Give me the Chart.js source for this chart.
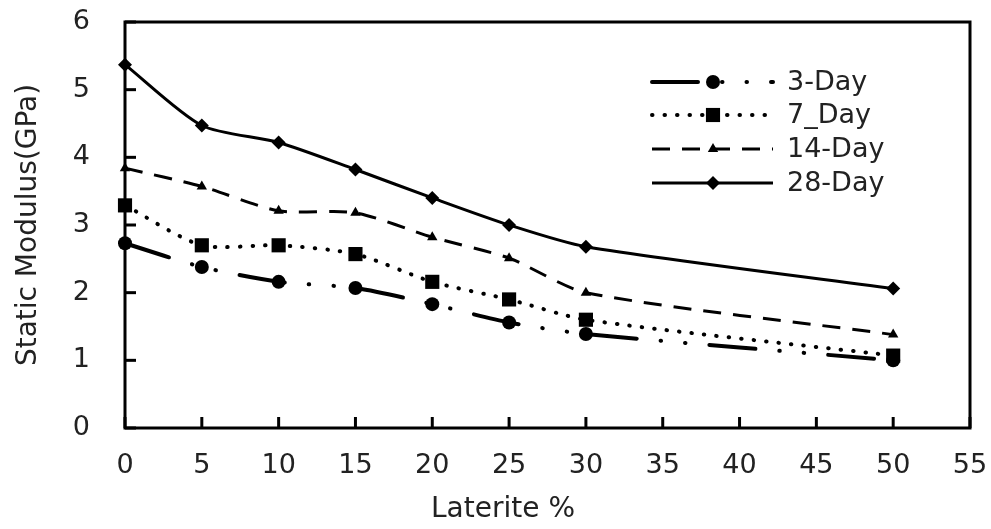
<!DOCTYPE html>
<html>
<head>
<meta charset="utf-8">
<script src="https://cdn.jsdelivr.net/npm/chart.js@4.4.1/dist/chart.umd.min.js"></script>
<style>
  html, body { margin: 0; padding: 0; background: #fff; }
  #wrap { width: 991px; height: 529px; }
</style>
</head>
<body>
<div id="wrap"><canvas id="modulus-chart" width="991" height="529"></canvas></div>
<script>
// =============================
// DATA
// =============================
const lateritePct = [0, 5, 10, 15, 20, 25, 30, 50];
const day3  = [2.73, 2.38, 2.16, 2.07, 1.83, 1.56, 1.39, 1.00];
const day7  = [3.29, 2.70, 2.70, 2.57, 2.16, 1.90, 1.60, 1.07];
const day14 = [3.84, 3.57, 3.21, 3.18, 2.82, 2.51, 2.00, 1.38];
const day28 = [5.37, 4.47, 4.22, 3.82, 3.40, 3.00, 2.68, 2.06];
const seriesNames = ['3-Day', '7_Day', '14-Day', '28-Day'];
const xAxisTitle = 'Laterite %';
const yAxisTitle = 'Static Modulus(GPa)';

const fontFamily = '"DejaVu Sans", sans-serif';
const textColor = '#222';

function toPoints(values) {
    return values.map((v, i) => ({ x: lateritePct[i], y: v }));
}

// line / marker looks for each series
const seriesStyles = [
    { borderWidth: 4, borderDash: [46, 24, 0.5, 24, 0.5, 24], cap: 'round', pointStyle: 'circle', radius: 7 },
    { borderWidth: 4, borderDash: [0.5, 12], cap: 'round', pointStyle: 'rect', radius: 10 },
    { borderWidth: 3, borderDash: [18, 12], cap: 'butt', pointStyle: 'triangle', radius: 6 },
    { borderWidth: 3, borderDash: [], cap: 'butt', pointStyle: 'rectRot', radius: 7 }
];

const datasets = [day3, day7, day14, day28].map((vals, i) => {
    const s = seriesStyles[i];
    return {
        label: seriesNames[i],
        data: toPoints(vals),
        borderColor: '#000',
        backgroundColor: '#000',
        borderWidth: s.borderWidth,
        borderDash: s.borderDash,
        borderCapStyle: s.cap,
        tension: 0.25,
        pointStyle: s.pointStyle,
        pointRadius: s.radius,
        pointBorderWidth: 0,
        pointBackgroundColor: '#000',
        clip: false
    };
});

// frame round the plot area + inside tick marks + x title + legend
const frameAndTicks = {
    id: 'frameAndTicks',
    beforeDatasetsDraw(chart) {
        const { ctx, chartArea: a, scales } = chart;
        ctx.save();
        ctx.strokeStyle = '#000';
        ctx.lineWidth = 3;
        ctx.strokeRect(a.left, a.top, a.right - a.left, a.bottom - a.top);
        scales.x.ticks.forEach(t => {
            const px = scales.x.getPixelForValue(t.value);
            ctx.beginPath();
            ctx.moveTo(px, a.bottom);
            ctx.lineTo(px, a.bottom - 11);
            ctx.stroke();
        });
        scales.y.ticks.forEach(t => {
            const py = scales.y.getPixelForValue(t.value);
            ctx.beginPath();
            ctx.moveTo(a.left, py);
            ctx.lineTo(a.left + 11, py);
            ctx.stroke();
        });
        ctx.restore();
    },
    afterDraw(chart) {
        const { ctx } = chart;
        ctx.save();
        ctx.fillStyle = textColor;
        ctx.font = `28px ${fontFamily}`;
        ctx.textAlign = 'center';
        ctx.textBaseline = 'middle';
        ctx.fillText(xAxisTitle, 503, 510);

        // legend
        const rows = [82, 115, 149, 183];
        const lineStart = 652, lineEnd = 773, markX = 713;
        chart.data.datasets.forEach((ds, i) => {
            const y = rows[i];
            ctx.strokeStyle = '#000';
            ctx.lineWidth = ds.borderWidth;
            ctx.lineCap = ds.borderCapStyle;
            ctx.setLineDash(ds.borderDash);
            ctx.beginPath();
            ctx.moveTo(lineStart, y);
            ctx.lineTo(lineEnd, y);
            ctx.stroke();
            ctx.setLineDash([]);
            ctx.fillStyle = '#000';
            Chart.helpers.drawPoint(ctx, {
                pointStyle: ds.pointStyle,
                radius: ds.pointRadius,
                rotation: 0,
                borderWidth: 0
            }, markX, y);
            ctx.fillStyle = textColor;
            ctx.font = `27px ${fontFamily}`;
            ctx.textAlign = 'left';
            ctx.fillText(ds.label, 787, y + 1);
        });
        ctx.restore();
    }
};

const ctx = document.getElementById('modulus-chart').getContext('2d');
new Chart(ctx, {
    type: 'line',
    data: { datasets: datasets },
    options: {
        responsive: false,
        animation: false,
        layout: { padding: { top: 22, right: 21, left: 0, bottom: 0 } },
        scales: {
            x: {
                type: 'linear',
                min: 0,
                max: 55,
                ticks: { stepSize: 5, padding: 22, color: textColor, font: { size: 27, family: fontFamily } },
                grid: { display: false, drawTicks: false },
                border: { display: false },
                afterFit(scale) {
                    scale.height = 101;
                    scale.paddingLeft = 0;
                    scale.paddingRight = 0;
                }
            },
            y: {
                min: 0,
                max: 6,
                ticks: { stepSize: 1, padding: 35, color: textColor, font: { size: 27, family: fontFamily } },
                grid: { display: false, drawTicks: false },
                border: { display: false },
                title: {
                    display: true,
                    text: yAxisTitle,
                    color: textColor,
                    font: { size: 28, family: fontFamily },
                    padding: { top: 12, bottom: 0 }
                },
                afterFit(scale) {
                    scale.width = 125;
                    scale.paddingTop = 0;
                    scale.paddingBottom = 0;
                }
            }
        },
        plugins: {
            legend: { display: false },
            tooltip: { enabled: false }
        }
    },
    plugins: [frameAndTicks]
});
</script>
</body>
</html>
